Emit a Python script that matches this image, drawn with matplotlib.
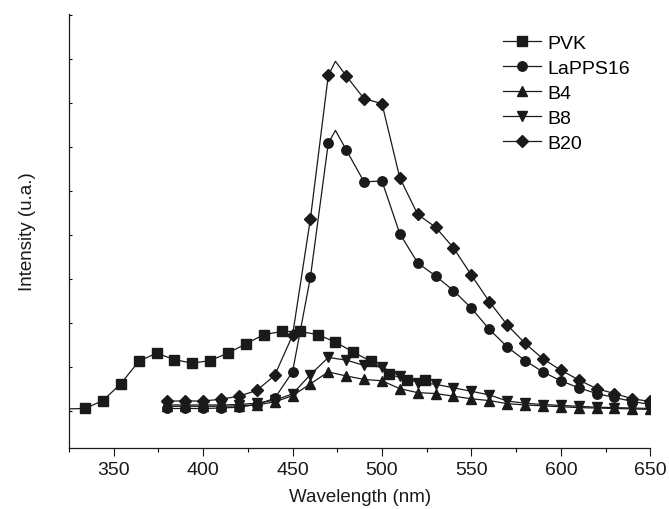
import numpy as np
import matplotlib.pyplot as plt
from matplotlib.ticker import MultipleLocator

plt.rcParams['font.family'] = ['Liberation Sans', 'DejaVu Sans']

# PVK: sampled every 10 nm starting at 324 nm (first point lies at the axis edge)
pvk_wl = [324, 334, 344, 354, 364, 374, 384, 394, 404, 414, 424, 434, 444,
          454, 464, 474, 484, 494, 504, 514, 524]
pvk_int = [0.04, 0.05, 0.23, 0.61, 1.12, 1.31, 1.16, 1.08, 1.14, 1.31, 1.52,
           1.73, 1.80, 1.80, 1.73, 1.56, 1.33, 1.12, 0.84, 0.69, 0.69]

# blends share the 380-650 nm grid
wl = list(range(380, 651, 10))
lapps16 = [0.05, 0.05, 0.05, 0.06, 0.08, 0.14, 0.28, 0.88, 3.03, 6.08, 5.93,
           5.20, 5.22, 4.02, 3.36, 3.06, 2.73, 2.33, 1.85, 1.45, 1.14, 0.88,
           0.68, 0.52, 0.39, 0.30, 0.21, 0.14]
b4 = [0.10, 0.10, 0.10, 0.10, 0.11, 0.13, 0.20, 0.34, 0.61, 0.88, 0.79,
      0.71, 0.68, 0.50, 0.41, 0.39, 0.33, 0.27, 0.23, 0.16, 0.13, 0.11,
      0.09, 0.07, 0.06, 0.05, 0.04, 0.03]
b8 = [0.13, 0.13, 0.13, 0.13, 0.14, 0.17, 0.24, 0.38, 0.82, 1.21, 1.15,
      1.03, 0.99, 0.79, 0.64, 0.60, 0.52, 0.44, 0.36, 0.22, 0.17, 0.14,
      0.12, 0.10, 0.08, 0.07, 0.06, 0.05]
b20 = [0.22, 0.22, 0.22, 0.26, 0.33, 0.46, 0.80, 1.71, 4.36, 7.62, 7.61,
       7.09, 6.98, 5.29, 4.46, 4.17, 3.70, 3.08, 2.48, 1.95, 1.53, 1.18,
       0.92, 0.70, 0.50, 0.39, 0.27, 0.21]

# emission maxima between the sampled points (line only, no marker)
peak_wl = 474
lapps16_peak = 6.37
b20_peak = 7.94


def with_peak(x, y, px, py):
    i = x.index(470) + 1
    xs = x[:i] + [px] + x[i:]
    ys = y[:i] + [py] + y[i:]
    marks = [k for k in range(len(xs)) if k != i]
    return xs, ys, marks


fig = plt.figure(figsize=(6.69, 5.10), dpi=100)
ax = fig.add_axes([0.103, 0.119, 0.869, 0.852])

ink = '#1a1a1a'
line = dict(color=ink, lw=0.9, mec=ink, mfc=ink)

ax.plot(pvk_wl, pvk_int, marker='s', markersize=6.5,
        markevery=list(range(1, len(pvk_wl))), label='PVK', **line)
xs, ys, mk = with_peak(wl, lapps16, peak_wl, lapps16_peak)
ax.plot(xs, ys, marker='o', markersize=6.8, markevery=mk, label='LaPPS16', **line)
ax.plot(wl, b4, marker='^', markersize=7.5, label='B4', **line)
ax.plot(wl, b8, marker='v', markersize=7.5, label='B8', **line)
xs, ys, mk = with_peak(wl, b20, peak_wl, b20_peak)
ax.plot(xs, ys, marker='D', markersize=6, markevery=mk, label='B20', **line)

ax.set_xlim(325, 650)
ax.set_ylim(-0.855, 9.02)
ax.xaxis.set_major_locator(MultipleLocator(50))
ax.xaxis.set_minor_locator(MultipleLocator(25))
ax.yaxis.set_major_locator(MultipleLocator(1))
ax.set_yticklabels([])
ax.tick_params(axis='x', which='major', direction='out', length=6, width=0.8,
               labelsize=14, colors=ink, pad=3)
ax.tick_params(axis='x', which='minor', direction='out', length=3, width=0.8)
ax.tick_params(axis='y', which='major', direction='in', length=2.5, width=0.8)

for side in ('top', 'right'):
    ax.spines[side].set_visible(False)
for side in ('left', 'bottom'):
    ax.spines[side].set_linewidth(0.9)
    ax.spines[side].set_color(ink)

ax.set_xlabel('Wavelength (nm)', fontsize=13.5, color=ink, labelpad=7)
ax.set_ylabel('Intensity (u.a.)', fontsize=13.5, color=ink, labelpad=20)

ax.legend(loc='upper left', bbox_to_anchor=(0.746, 0.952), frameon=False,
          fontsize=14, handlelength=2.0, handletextpad=0.3, labelspacing=0.38,
          borderaxespad=0, borderpad=0)

fig.savefig('out.png', dpi=100)
